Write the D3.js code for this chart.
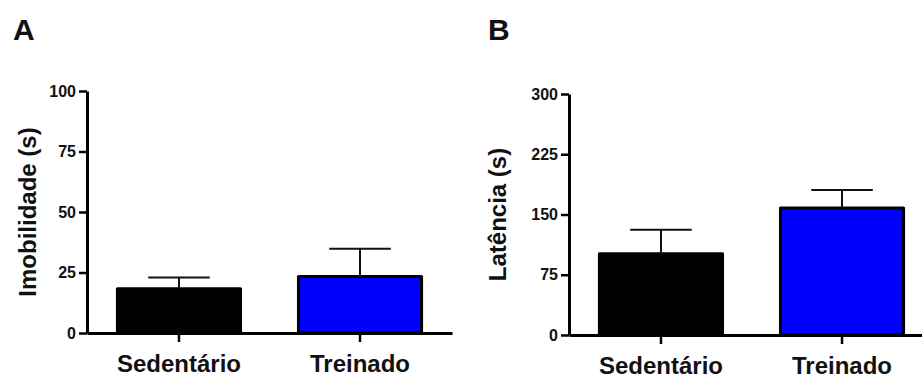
<!DOCTYPE html>
<html>
<head>
<meta charset="utf-8">
<script src="https://cdn.jsdelivr.net/npm/d3@7"></script>
<style>
  body { margin: 0; background: #fff; }
  svg { display: block; }
</style>
</head>
<body>
<div id="chart"></div>
<script>
// Data
const categories = ["Sedentário", "Treinado"];
const barColors = ["#000000", "#0000ff"];

const imobilidadeMean = [18.3, 23.3];
const imobilidadeErr = [4.6, 11.5];
const imobilidadeTicks = [0, 25, 50, 75, 100];

const latenciaMean = [101, 158];
const latenciaErr = [30, 22.5];
const latenciaTicks = [0, 75, 150, 225, 300];

const width = 922;
const height = 378;
const font = "Arial, 'Liberation Sans', sans-serif";

const svg = d3.select("#chart")
    .append("svg")
    .attr("width", width)
    .attr("height", height);

function drawPanel(opts) {
    const g = svg.append("g");

    const x = d3.scaleBand()
        .domain(categories)
        .range([opts.left, opts.left + 365])
        .paddingInner(0.32)
        .paddingOuter(0.168);

    const y = d3.scaleLinear()
        .domain([0, opts.max])
        .range([opts.bottom, opts.top]);

    // Bars
    g.selectAll("rect.bar")
        .data(categories)
        .join("rect")
        .attr("class", "bar")
        .attr("x", d => x(d))
        .attr("width", x.bandwidth())
        .attr("y", (d, i) => y(opts.mean[i]))
        .attr("height", (d, i) => y(0) - y(opts.mean[i]))
        .attr("fill", (d, i) => barColors[i])
        .attr("stroke", "#000")
        .attr("stroke-width", 3)
        .attr("stroke-linejoin", "round");

    // Error bars (upper only)
    const capHalf = x.bandwidth() / 4;
    categories.forEach((c, i) => {
        const cx = x(c) + x.bandwidth() / 2;
        const top = y(opts.mean[i] + opts.err[i]);
        g.append("line")
            .attr("x1", cx).attr("x2", cx)
            .attr("y1", y(opts.mean[i])).attr("y2", top)
            .attr("stroke", "#111").attr("stroke-width", 2);
        g.append("line")
            .attr("x1", cx - capHalf).attr("x2", cx + capHalf)
            .attr("y1", top).attr("y2", top)
            .attr("stroke", "#111").attr("stroke-width", 2);
    });

    // Axes
    const yAxis = g.append("g")
        .attr("transform", `translate(${opts.left},0)`)
        .call(d3.axisLeft(y).tickValues(opts.ticks).tickSize(8).tickSizeOuter(0).tickPadding(3));

    const xAxis = g.append("g")
        .attr("transform", `translate(0,${opts.bottom})`)
        .call(d3.axisBottom(x).tickSize(9).tickSizeOuter(0).tickPadding(13));

    [yAxis, xAxis].forEach(a => {
        a.select(".domain").attr("stroke", "#000").attr("stroke-width", 3);
        a.selectAll(".tick line").attr("stroke", "#000").attr("stroke-width", 2.5);
    });

    yAxis.selectAll(".tick text")
        .attr("font-family", font)
        .attr("font-size", "16px")
        .attr("font-weight", "bold")
        .attr("fill", "#111");

    xAxis.selectAll(".tick text")
        .attr("font-family", font)
        .attr("font-size", "24px")
        .attr("font-weight", "bold")
        .attr("fill", "#111");

    // Y axis title
    g.append("text")
        .attr("transform", `translate(${opts.titleX},${(opts.top + opts.bottom) / 2}) rotate(-90)`)
        .attr("text-anchor", "middle")
        .attr("font-family", font)
        .attr("font-size", "24px")
        .attr("font-weight", "bold")
        .attr("fill", "#111")
        .text(opts.title);

    // Panel letter
    g.append("text")
        .attr("x", opts.letterX)
        .attr("y", 40)
        .attr("font-family", font)
        .attr("font-size", "30px")
        .attr("font-weight", "bold")
        .attr("fill", "#111")
        .text(opts.letter);
}

drawPanel({
    left: 87, top: 91, bottom: 333, max: 100,
    mean: imobilidadeMean, err: imobilidadeErr, ticks: imobilidadeTicks,
    title: "Imobilidade (s)", titleX: 36, letter: "A", letterX: 13
});

drawPanel({
    left: 569, top: 94, bottom: 335, max: 300,
    mean: latenciaMean, err: latenciaErr, ticks: latenciaTicks,
    title: "Latência (s)", titleX: 506, letter: "B", letterX: 488
});
</script>
</body>
</html>
